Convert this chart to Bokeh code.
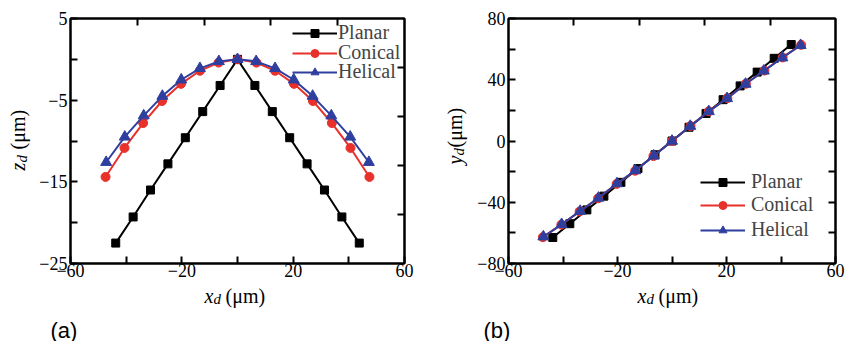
import math
from bokeh.plotting import figure
from bokeh.layouts import row, column
from bokeh.models import (Range1d, LinearAxis, FixedTicker, Label, Legend, LegendItem)
from bokeh.embed import file_html
from bokeh.resources import INLINE

# ---------------- data ----------------
series_names = ["Planar", "Conical", "Helical"]
series_colors = ["#000000", "#e8312a", "#2f3f9f"]

x_planar = [-43.75, -37.5, -31.25, -25.0, -18.75, -12.5, -6.25, 0.0,
            6.25, 12.5, 18.75, 25.0, 31.25, 37.5, 43.75]
x_conical = [-47.4, -40.6, -33.9, -27.1, -20.3, -13.5, -6.8, 0.0,
             6.8, 13.5, 20.3, 27.1, 33.9, 40.6, 47.4]
x_helical = [-47.2, -40.5, -33.7, -27.0, -20.2, -13.5, -6.7, 0.0,
             6.7, 13.5, 20.2, 27.0, 33.7, 40.5, 47.2]

# panel (a): z_d
z_planar = [-22.5, -19.3, -16.0, -12.8, -9.6, -6.4, -3.2, 0.0,
            -3.2, -6.4, -9.6, -12.8, -16.0, -19.3, -22.5]
z_conical = [-14.4, -10.85, -7.8, -5.1, -3.0, -1.4, -0.4, 0.0,
             -0.4, -1.4, -3.0, -5.1, -7.8, -10.85, -14.4]
z_helical = [-12.6, -9.5, -6.9, -4.5, -2.5, -1.1, -0.25, 0.0,
             -0.25, -1.1, -2.5, -4.5, -6.9, -9.5, -12.6]

# panel (b): y_d
y_planar = [-63.0, -54.0, -45.0, -36.0, -27.0, -18.0, -9.0, 0.0,
            9.0, 18.0, 27.0, 36.0, 45.0, 54.0, 63.0]
y_conical = [-62.8, -54.6, -46.0, -37.4, -28.0, -19.4, -9.8, 0.0,
             9.8, 19.4, 28.0, 37.4, 46.0, 54.6, 62.8]
y_helical = [-62.5, -54.4, -45.8, -37.2, -27.8, -19.3, -9.7, 0.0,
             9.7, 19.3, 27.8, 37.2, 45.8, 54.4, 62.5]

x_major = [-60, -20, 20, 60]
x_minor = [-40, 0, 40]
za_major = [5, -5, -15, -25]
za_minor = [0, -10, -20]
yb_major = [80, 40, 0, -40, -80]
yb_minor = [60, 20, -20, -60]
top_ticks = [-36, -12, 12, 36]
right_ticks_a = [-1, -7, -13, -19]
right_ticks_b = [60, 40, 20, 0, -20, -40, -60]

SERIF = "Liberation Serif"
LABEL_FONT = "Times New Roman"
TOP_H = 285            # row holding the plot frames
XL_Y, XL_H = 285, 27   # strip holding the x axis titles
PL_Y, PL_H = 312, 29   # strip holding the panel letters


def style_axis(ax):
    ax.axis_line_width = 2
    ax.axis_line_color = "black"
    for k in ("major", "minor"):
        setattr(ax, k + "_tick_in", 7)
        setattr(ax, k + "_tick_out", 0)
        setattr(ax, k + "_tick_line_width", 2)
        setattr(ax, k + "_tick_line_color", "black")
    ax.major_label_text_font = SERIF
    ax.major_label_text_font_size = "18px"
    ax.major_label_text_color = "black"
    ax.major_label_standoff = 0


def make_panel(width, ys, y0, y1, ymaj, ymin, right_ticks, borders):
    bl, br, bt, bb = borders
    p = figure(width=width, height=TOP_H, x_range=Range1d(-60, 60), y_range=Range1d(y0, y1),
               output_backend="svg", toolbar_location=None,
               min_border_left=bl, min_border_right=br, min_border_top=bt, min_border_bottom=bb,
               x_axis_type=None, y_axis_type=None)
    p.outline_line_color = "black"
    p.outline_line_width = 2
    p.background_fill_color = "white"
    p.border_fill_color = "white"
    p.xgrid.visible = False
    p.ygrid.visible = False

    xb = LinearAxis(ticker=FixedTicker(ticks=x_major, minor_ticks=x_minor))
    style_axis(xb)
    p.add_layout(xb, "below")
    yl = LinearAxis(ticker=FixedTicker(ticks=ymaj, minor_ticks=ymin))
    style_axis(yl)
    yl.major_label_standoff = 3
    p.add_layout(yl, "left")
    xt = LinearAxis(ticker=FixedTicker(ticks=[], minor_ticks=top_ticks))
    style_axis(xt)
    p.add_layout(xt, "above")
    yr = LinearAxis(ticker=FixedTicker(ticks=[], minor_ticks=right_ticks))
    style_axis(yr)
    p.add_layout(yr, "right")

    xs = [x_planar, x_conical, x_helical]
    markers = ["square", "circle", "triangle"]
    sizes = [8, 9, 11]
    rends = []
    for xv, yv, c, m, s in zip(xs, ys, series_colors, markers, sizes):
        l = p.line(xv, yv, line_color=c, line_width=2)
        sc = p.scatter(xv, yv, marker=m, size=s, fill_color=c, line_color=c)
        rends.append([l, sc])
    return p, rends


def add_legends(p, rends, frame_left, frame_bottom, glyph_left, rows, standoff):
    h = 20
    for name, r, cy in zip(series_names, rends, rows):
        lg = Legend(items=[LegendItem(label=name, renderers=r)],
                    location=(glyph_left - frame_left, frame_bottom - (cy + h / 2)),
                    padding=0, margin=0, spacing=0,
                    glyph_width=45, glyph_height=h, label_height=h, label_standoff=standoff,
                    label_text_font=SERIF, label_text_font_size="20px",
                    background_fill_alpha=0, border_line_color=None)
        p.add_layout(lg, "center")


def strip(width, height):
    s = figure(width=width, height=height, x_range=Range1d(0, 1), y_range=Range1d(0, 1),
               output_backend="svg", toolbar_location=None, min_border=0,
               x_axis_type=None, y_axis_type=None)
    s.outline_line_color = None
    s.xgrid.visible = False
    s.ygrid.visible = False
    s.background_fill_color = "white"
    s.border_fill_color = "white"
    return s


def add_text(s, x0, y0, h, px, py, text, size="20px", style="normal", font=LABEL_FONT, angle=0.0):
    # px, py: window pixels from top-left; (x0, y0) is the strip's top-left, h its height
    s.add_layout(Label(x=px - x0, y=(y0 + h) - py, x_units="screen", y_units="screen",
                       text=text, text_font=font, text_font_size=size,
                       text_font_style=style, text_color="black", text_align="left",
                       text_baseline="alphabetic", angle=angle))


# ---------------- panel (a) ----------------
LA_W = 34
la = strip(LA_W, TOP_H)
add_text(la, 0, 0, TOP_H, 17, 192, "z", style="italic", angle=math.pi / 2)
add_text(la, 0, 0, TOP_H, 21, 184, "d", size="15px", style="italic", angle=math.pi / 2)
add_text(la, 0, 0, TOP_H, 17, 171, "(\u03bcm)", angle=math.pi / 2)

pa, ra = make_panel(429 - LA_W, [z_planar, z_conical, z_helical], -25, 5, za_major, za_minor,
                    right_ticks_a, (70 - LA_W, 429 - 404, 17, TOP_H - 263))
add_legends(pa, ra, 70, 263, 292, [34, 54, 73], 1)

xa_strip = strip(429, XL_H)
add_text(xa_strip, 0, XL_Y, XL_H, 204, 295, "x", style="italic")
add_text(xa_strip, 0, XL_Y, XL_H, 213, 298, "d", size="15px", style="italic")
add_text(xa_strip, 0, XL_Y, XL_H, 225, 295, "(\u03bcm)")

pla = strip(429, PL_H)
add_text(pla, 0, PL_Y, PL_H, 50, 330, "(a)", size="22px", font="Liberation Sans")

# ---------------- panel (b) ----------------
LB_W = 45
lb = strip(LB_W, TOP_H)
add_text(lb, 429, 0, TOP_H, 454, 186, "y", style="italic", angle=math.pi / 2)
add_text(lb, 429, 0, TOP_H, 458, 177, "d", size="15px", style="italic", angle=math.pi / 2)
add_text(lb, 429, 0, TOP_H, 454, 169, "(\u03bcm)", angle=math.pi / 2)

pb, rb = make_panel(429 - LB_W, [y_planar, y_conical, y_helical], -80, 80, yb_major, yb_minor,
                    right_ticks_b, (503 - 429 - LB_W, 858 - 835, 18, TOP_H - 264))
add_legends(pb, rb, 503, 264, 695, [184, 207, 232], 6)

xb_strip = strip(429, XL_H)
add_text(xb_strip, 429, XL_Y, XL_H, 637, 295, "x", style="italic")
add_text(xb_strip, 429, XL_Y, XL_H, 646, 298, "d", size="15px", style="italic")
add_text(xb_strip, 429, XL_Y, XL_H, 658, 295, "(\u03bcm)")

plb = strip(429, PL_H)
add_text(plb, 429, PL_Y, PL_H, 483, 330, "(b)", size="22px", font="Liberation Sans")

layout = column(row(la, pa, lb, pb), row(xa_strip, xb_strip), row(pla, plb))
open("out.html", "w").write(file_html(layout, INLINE))
